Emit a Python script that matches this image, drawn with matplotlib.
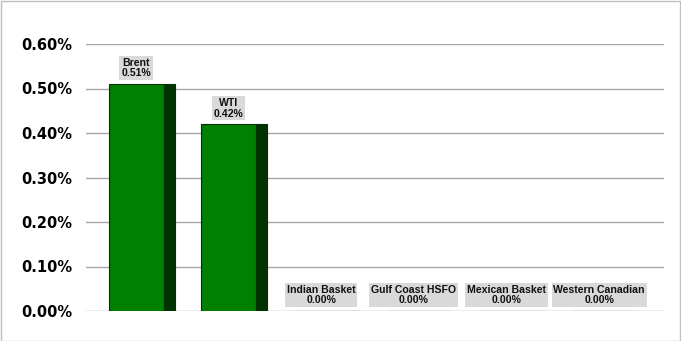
import matplotlib
matplotlib.use("Agg")
import matplotlib.pyplot as plt
import matplotlib.ticker as mticker
import numpy as np

categories = ["Brent", "WTI", "Indian Basket", "Gulf Coast HSFO", "Mexican Basket", "Western Canadian"]
values = [0.51, 0.42, 0.00, 0.00, 0.00, 0.00]
value_labels = ["0.51%", "0.42%", "0.00%", "0.00%", "0.00%", "0.00%"]
yticks = [0.0, 0.1, 0.2, 0.3, 0.4, 0.5, 0.6]

GREEN = "#008000"
DARK = "#003300"
GRID = "#a6a6a6"

fig = plt.figure(figsize=(6.81, 3.41), dpi=100)
ax = fig.add_axes([86 / 681, 1 - 311 / 341, 578 / 681, 267 / 341])

x = np.arange(len(categories))
w = 0.594
side = 0.119
# front face + dark side strip to mimic the 3D look
ax.bar(x, values, width=w, color=GREEN, edgecolor=DARK, linewidth=0.8, zorder=3)
ax.bar(x + w / 2 + side / 2, values, width=side, color=DARK, edgecolor=DARK,
       linewidth=0.8, zorder=4)

for xi, cat, v, lab in zip(x, categories, values, value_labels):
    ax.annotate(f"{cat}\n{lab}", xy=(xi, v), xytext=(0, 4), textcoords="offset points",
                ha="center", va="bottom", fontsize=7.6, fontweight="bold",
                family="Liberation Sans", color="#111111", linespacing=1.05,
                bbox=dict(boxstyle="square,pad=0.18", fc="#d9d9d9", ec="none"),
                zorder=5)

ax.set_xlim(-0.54, 5.70)
ax.set_ylim(0, 0.6)
ax.set_yticks(yticks)
ax.yaxis.set_major_formatter(mticker.FuncFormatter(lambda v, p: f"{v:.2f}%"))
ax.set_xticks([])
ax.tick_params(axis="y", length=0, pad=10, labelsize=10.5)
for t in ax.get_yticklabels():
    t.set_fontweight("bold")
    t.set_family("DejaVu Sans")
ax.grid(axis="y", color=GRID, linewidth=1, zorder=0)
for s in ax.spines.values():
    s.set_visible(False)

fig.patches.append(plt.Rectangle((0.5 / 681, 0.5 / 341), 679.5 / 681, 339.5 / 341,
                                 transform=fig.transFigure, fill=False,
                                 edgecolor="#bfbfbf", linewidth=1))

fig.savefig("out.png", dpi=100, facecolor="white")
